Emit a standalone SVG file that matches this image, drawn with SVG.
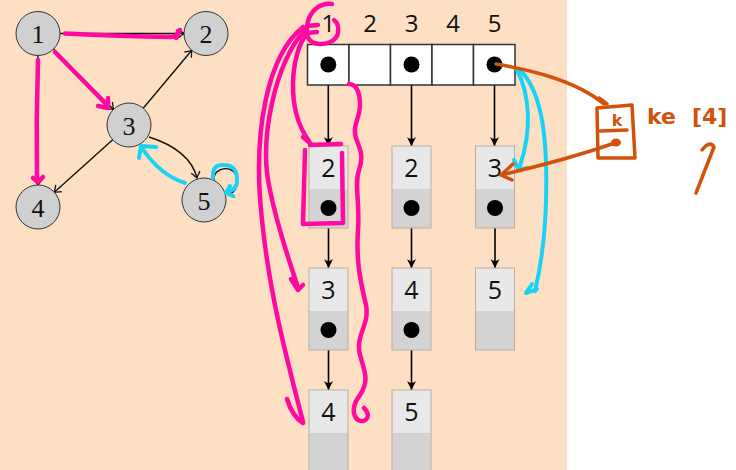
<svg xmlns="http://www.w3.org/2000/svg" width="736" height="470" viewBox="0 0 736 470">
<style>
.gn{fill:#d0d0d0;stroke:#333;stroke-width:1}
.gl{font-family:"Liberation Serif",serif;font-size:26px;fill:#111;text-anchor:middle}
.e{fill:none;stroke:#111;stroke-width:1.4;marker-end:url(#open)}
.cell{fill:#fff;stroke:#333;stroke-width:1.5}
.hd{font-family:"Open Sans","DejaVu Sans",sans-serif;font-size:24px;fill:#111;text-anchor:middle}
.nt{fill:#e8e8e8}
.nb{fill:#d3d3d3}
.nf{fill:none;stroke:#bcae9f;stroke-width:1}
.nl{font-family:"Open Sans","DejaVu Sans",sans-serif;font-size:25px;fill:#111;text-anchor:middle}
.ptr{fill:none;stroke:#000;stroke-width:1.6;marker-end:url(#stealth)}
.mg{fill:none;stroke:#ff0aa0;stroke-width:4.5;stroke-linecap:round;stroke-linejoin:round}
.cy{fill:none;stroke:#19d3f7;stroke-width:4;stroke-linecap:round;stroke-linejoin:round}
.or{fill:none;stroke:#d2520a;stroke-width:3.5;stroke-linecap:round;stroke-linejoin:round}
.ot{font-family:"DejaVu Sans",sans-serif;font-weight:bold;fill:#d2520a}
</style>
<defs>
<marker id="open" viewBox="-8 -6 10 12" refX="0" refY="0" markerWidth="10" markerHeight="12" markerUnits="userSpaceOnUse" orient="auto">
<path d="M-6,-4.5 Q-1.5,-1 0,0 Q-1.5,1 -6,4.5" fill="none" stroke="#111" stroke-width="1.3"/>
</marker>
<marker id="stealth" viewBox="-10 -6 12 12" refX="0" refY="0" markerWidth="12" markerHeight="12" markerUnits="userSpaceOnUse" orient="auto">
<path d="M0,0 L-9,-4.5 Q-5,0 -9,4.5 Z" fill="#000"/>
</marker>
</defs>
<rect x="0" y="0" width="567" height="470" fill="#fddfc3"/>
<rect x="567" y="0" width="169" height="470" fill="#fff"/>

<g id="connectors">
<path class="e" d="M60,33.5 L184,33.5"/>
<path class="e" d="M53.5,49.1 L113.5,109.4"/>
<path class="e" d="M38,55.5 L38,185"/>
<path class="e" d="M143.2,108.2 L191.8,50.3"/>
<path class="e" d="M112.7,139.7 L54.3,192.3"/>
<path class="e" d="M149,137 Q190,150 197,178"/>
<path class="e" d="M214,180 C213,166 236,164 237,179 C238,188 234,193 228,194"/>
<path class="ptr" d="M328.3,64.5 L328.3,146"/>
<path class="ptr" d="M411.5,64.5 L411.5,146"/>
<path class="ptr" d="M494.5,64.5 L494.5,146"/>
<path class="ptr" d="M328.5,208 L328.5,268"/>
<path class="ptr" d="M411.5,208 L411.5,268"/>
<path class="ptr" d="M495,208 L495,268"/>
<path class="ptr" d="M328.5,330 L328.5,390"/>
<path class="ptr" d="M411.5,330 L411.5,390"/>
</g>

<g id="g1"><circle class="gn" cx="38" cy="33.5" r="22"/><text class="gl" x="38" y="43">1</text></g>
<g id="g2"><circle class="gn" cx="206" cy="33.5" r="22"/><text class="gl" x="206" y="43">2</text></g>
<g id="g3"><circle class="gn" cx="129" cy="125" r="22"/><text class="gl" x="129" y="134.5">3</text></g>
<g id="g4"><circle class="gn" cx="38" cy="207" r="22"/><text class="gl" x="38" y="216.5">4</text></g>
<g id="g5"><circle class="gn" cx="204" cy="200" r="22"/><text class="gl" x="204" y="209.5">5</text></g>

<g id="array">
<text class="hd" x="328.3" y="32">1</text>
<text class="hd" x="370" y="32">2</text>
<text class="hd" x="411.5" y="32">3</text>
<text class="hd" x="453" y="32">4</text>
<text class="hd" x="494.5" y="32">5</text>
<rect class="cell" x="307.5" y="44.5" width="41.5" height="40.5"/>
<rect class="cell" x="349" y="44.5" width="41.5" height="40.5"/>
<rect class="cell" x="390.5" y="44.5" width="41.5" height="40.5"/>
<rect class="cell" x="432" y="44.5" width="41.5" height="40.5"/>
<rect class="cell" x="473.5" y="44.5" width="41.5" height="40.5"/>
<circle cx="328.3" cy="64.5" r="8"/>
<circle cx="411.5" cy="64.5" r="8"/>
<circle cx="494.5" cy="64.5" r="8"/>
</g>

<g id="n1a"><rect class="nt" x="309" y="146" width="39" height="43"/><rect class="nb" x="309" y="189" width="39" height="39"/><rect class="nf" x="309" y="146" width="39" height="82"/><text class="nl" x="328.5" y="177">2</text><circle cx="328.5" cy="208" r="8"/></g>
<g id="n1b"><rect class="nt" x="309" y="268" width="39" height="43"/><rect class="nb" x="309" y="311" width="39" height="39"/><rect class="nf" x="309" y="268" width="39" height="82"/><text class="nl" x="328.5" y="299">3</text><circle cx="328.5" cy="330" r="8"/></g>
<g id="n1c"><rect class="nt" x="309" y="390" width="39" height="43"/><rect class="nb" x="309" y="433" width="39" height="39"/><rect class="nf" x="309" y="390" width="39" height="82"/><text class="nl" x="328.5" y="421">4</text></g>
<g id="n3a"><rect class="nt" x="392" y="146" width="39" height="43"/><rect class="nb" x="392" y="189" width="39" height="39"/><rect class="nf" x="392" y="146" width="39" height="82"/><text class="nl" x="411.5" y="177">2</text><circle cx="411.5" cy="208" r="8"/></g>
<g id="n3b"><rect class="nt" x="392" y="268" width="39" height="43"/><rect class="nb" x="392" y="311" width="39" height="39"/><rect class="nf" x="392" y="268" width="39" height="82"/><text class="nl" x="411.5" y="299">4</text><circle cx="411.5" cy="330" r="8"/></g>
<g id="n3c"><rect class="nt" x="392" y="390" width="39" height="43"/><rect class="nb" x="392" y="433" width="39" height="39"/><rect class="nf" x="392" y="390" width="39" height="82"/><text class="nl" x="411.5" y="421">5</text></g>
<g id="n5a"><rect class="nt" x="475.5" y="146" width="39" height="43"/><rect class="nb" x="475.5" y="189" width="39" height="39"/><rect class="nf" x="475.5" y="146" width="39" height="82"/><text class="nl" x="495" y="177">3</text><circle cx="495" cy="208" r="8"/></g>
<g id="n5b"><rect class="nt" x="475.5" y="268" width="39" height="43"/><rect class="nb" x="475.5" y="311" width="39" height="39"/><rect class="nf" x="475.5" y="268" width="39" height="82"/><text class="nl" x="495" y="299">5</text></g>

<g id="annotations">
<path class="mg" d="M65,33.5 Q120,36 170,37 Q178,37 178,31"/>
<path class="mg" d="M176,38 L180,30"/>
<path class="mg" d="M55,52 L107,105"/>
<path class="mg" d="M98,106 L108,108 L108,98"/>
<path class="mg" d="M38,60 Q36,120 37,180"/>
<path class="mg" d="M33,178 L38,182 L43,177"/>
<path class="cy" d="M185,183 Q160,175 142,148"/>
<path class="cy" d="M139,158 L141,146 L156,147"/>
<path class="cy" d="M213,178 Q212,165 222,165 Q236,164 237,178 Q238,190 227,192"/>
<path class="cy" d="M230,186 L226,193 L233,196"/>

<path class="mg" d="M332,4 C322,2 313,9 309,18 C305,30 306,40 314,43 C324,46 336,42 338,33 C339,26 337,22 334,20"/>
<path class="mg" d="M307,26 L318,25 M307,33 L317,32"/>
<path class="mg" d="M307,33 C290,55 286,110 309,141"/>
<path class="mg" d="M303,137 L311,144"/>
<path class="mg" d="M310,145 L341,144"/>
<path class="mg" d="M305,150 L303,224 L343,223 L342,153"/>
<path class="mg" d="M305,30 C276,60 258,140 270,190 C278,230 290,262 298,288"/>
<path class="mg" d="M291,279 L298,290 L303,285"/>
<path class="mg" d="M303,27 C268,55 252,130 262,220 C270,300 290,370 303,422"/>
<path class="mg" d="M287,399 Q292,416 303,423"/>
<path class="mg" d="M349,84 C356,84 360,92 360,105 C360,118 352,125 356,138 C360,150 364,155 359,170 C354,185 360,200 358,230 C356,260 360,280 366,305 C370,325 355,335 360,355 C364,370 370,380 360,395 C352,405 352,415 358,420 C366,424 372,415 364,408"/>

<path class="cy" d="M517,70 C530,95 532,130 520,166"/>
<path class="cy" d="M514,160 L519,170 L527,168"/>
<path class="cy" d="M520,70 C540,90 548,130 546,200 C545,240 540,270 535,291"/>
<path class="cy" d="M526,293 L532,284 M527,293 L537,289"/>

<path class="or" d="M496,64 C530,70 575,80 604,104"/>
<path class="or" d="M599,98 L607,104"/>
<path class="or" d="M597,108 L632,105 L635,158 L598,158 Z"/>
<text class="ot" x="617" y="126" font-size="16" text-anchor="middle">k</text>
<path class="or" d="M600,131 L627,130"/>
<ellipse cx="616" cy="142.5" rx="5" ry="4" fill="#d2520a"/>
<path class="or" d="M615,143 C580,155 540,166 501,175"/>
<path class="or" d="M513,164 L501,175 L512,180"/>
<text class="ot" x="647" y="124" font-size="22">ke <tspan x="692">[4]</tspan></text>
<path class="or" d="M702,150 Q710,140 714,147 L696,193"/>
</g>
</svg>
